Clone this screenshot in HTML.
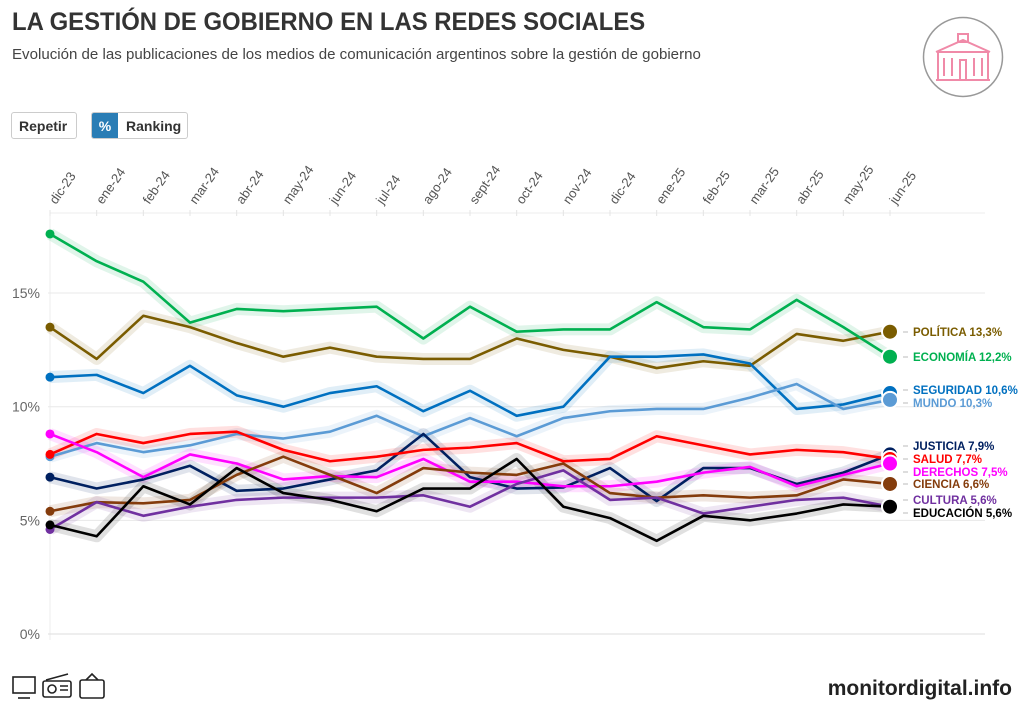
<!DOCTYPE html>
<html><head><meta charset="utf-8">
<style>
body{margin:0;width:1024px;height:720px;background:#fff;font-family:"Liberation Sans",sans-serif;overflow:hidden;position:relative}
.t{position:absolute;left:12px;top:8px;font-size:25px;font-weight:bold;color:#333;transform:scaleX(0.955);transform-origin:0 0;white-space:nowrap}
.s{position:absolute;left:12px;top:46px;font-size:15px;color:#444;white-space:nowrap;transform:scaleX(1.005);transform-origin:0 0}
.btn{position:absolute;top:112px;height:27px;border:1px solid #ccc;border-radius:3px;font-size:14px;font-weight:bold;color:#333;line-height:27px;box-sizing:border-box}
.foot{position:absolute;right:12px;top:677px;font-size:21px;font-weight:bold;color:#222}
</style></head><body>
<div class="t">LA GESTIÓN DE GOBIERNO EN LAS REDES SOCIALES</div>
<div class="s">Evolución de las publicaciones de los medios de comunicación argentinos sobre la gestión de gobierno</div>
<div class="btn" style="left:11px;width:66px;padding-left:7px">Repetir</div>
<div class="btn" style="left:91px;width:97px;display:flex;overflow:hidden"><span style="background:#2a7db5;color:#fff;width:26px;text-align:center">%</span><span style="padding-left:8px">Ranking</span></div>
<svg style="position:absolute;left:922px;top:16px" width="82" height="82">
<circle cx="41" cy="41" r="39.5" fill="#fff" stroke="#999" stroke-width="1.5"/>
<g fill="none" stroke="#f08aa8" stroke-width="2"><rect x="16" y="36" width="50" height="28"/><path d="M14 36 L41 24 L68 36"/><rect x="36" y="18" width="10" height="8"/><path d="M22 42v18M30 42v18M52 42v18M60 42v18M38 44h6v20h-6z"/><path d="M14 64h54"/></g></svg>
<svg id="c" width="1024" height="720" style="position:absolute;left:0;top:0"></svg>
<svg style="position:absolute;left:10px;top:672px" width="100" height="30"><g fill="none" stroke="#222" stroke-width="1.6"><rect x="3" y="5" width="22" height="16"/><path d="M8 26h12"/><rect x="33" y="9" width="28" height="16" rx="2"/><circle cx="42" cy="17" r="4"/><path d="M50 14h8M50 18h8M36 8l22-6"/><rect x="70" y="8" width="24" height="18" rx="2"/><path d="M76 8l6-6 6 6"/></g></svg>
<div class="foot">monitordigital.info</div>
<script>
const months=["dic-23","ene-24","feb-24","mar-24","abr-24","may-24","jun-24","jul-24","ago-24","sept-24","oct-24","nov-24","dic-24","ene-25","feb-25","mar-25","abr-25","may-25","jun-25"];
const yTicks=[0,5,10,15];
const names=["POLÍTICA","ECONOMÍA","SEGURIDAD","MUNDO","JUSTICIA","SALUD","DERECHOS","CIENCIA","CULTURA","EDUCACIÓN"];
const colors=["#7a5c00","#00b050","#0070c0","#5b9bd5","#002060","#ff0000","#ff00ff","#843c0c","#7030a0","#000000"];
const politica=[13.5,12.1,14.0,13.5,12.8,12.2,12.6,12.2,12.1,12.1,13.0,12.5,12.2,11.7,12.0,11.8,13.2,12.9,13.3];
const economia=[17.6,16.4,15.5,13.7,14.3,14.2,14.3,14.4,13.0,14.4,13.3,13.4,13.4,14.6,13.5,13.4,14.7,13.5,12.2];
const seguridad=[11.3,11.4,10.6,11.8,10.5,10.0,10.6,10.9,9.8,10.7,9.6,10.0,12.2,12.2,12.3,11.9,9.9,10.1,10.6];
const mundo=[7.8,8.4,8.0,8.3,8.8,8.6,8.9,9.6,8.7,9.5,8.7,9.5,9.8,9.9,9.9,10.4,11.0,9.9,10.3];
const justicia=[6.9,6.4,6.8,7.4,6.3,6.4,6.8,7.2,8.8,6.9,6.4,6.45,7.3,5.85,7.3,7.3,6.6,7.1,7.9];
const salud=[7.9,8.8,8.4,8.8,8.9,8.1,7.6,7.8,8.1,8.2,8.4,7.6,7.7,8.7,8.3,7.9,8.1,8.0,7.7];
const derechos=[8.8,8.0,6.9,7.9,7.5,6.8,6.95,6.9,7.7,6.7,6.7,6.5,6.5,6.7,7.1,7.35,6.5,7.0,7.5];
const ciencia=[5.4,5.8,5.75,5.9,7.0,7.8,7.0,6.2,7.3,7.1,7.0,7.5,6.2,6.0,6.1,6.0,6.1,6.8,6.6];
const cultura=[4.6,5.8,5.2,5.6,5.9,6.0,6.0,6.0,6.1,5.6,6.6,7.2,5.9,6.0,5.3,5.6,5.9,6.0,5.6];
const educacion=[4.8,4.3,6.5,5.7,7.3,6.2,5.9,5.4,6.4,6.4,7.7,5.6,5.1,4.1,5.2,5.0,5.3,5.7,5.6];
const series=[politica,economia,seguridad,mundo,justicia,salud,derechos,ciencia,cultura,educacion];
const labelY=[332,357,390,403,446,459,472,484,500,513];
const NS="http://www.w3.org/2000/svg",svg=document.getElementById('c');
const X=i=>50+i*(840/(months.length-1));
const Y=v=>634-v*22.73;
function mk(t,a,p){const e=document.createElementNS(NS,t);for(const k in a)e.setAttribute(k,a[k]);(p||svg).appendChild(e);return e;}
const ax=mk('line',{x1:50,x2:50,y1:213,y2:640,stroke:'#eee'});


const tl=mk('line',{x1:50,x2:985,y1:213,y2:213,stroke:'#eee'});


months.forEach((m,i)=>{
 const g=mk('line',{x1:X(i),x2:X(i),y1:210,y2:216,stroke:'#e4e4e4'});
 
 
 const t=mk('text',{x:X(i)+6,y:205,transform:`rotate(-55 ${X(i)+6} 205)`,'font-size':13,fill:'#555'});
 t.textContent=m;
 
 
});
yTicks.forEach(v=>{
 const g=mk('line',{x1:48,x2:985,y1:Y(v),y2:Y(v),stroke:v==0?'#ddd':'#e8e8e8'});
 
 
 const t=mk('text',{x:40,y:Y(v)+5,'text-anchor':'end','font-size':14,fill:'#666'});
 t.textContent=v+'%';
 
 
});
const pts=s=>s.map((v,i)=>X(i)+','+Y(v)).join(' ');
series.forEach((s,k)=>{
 const h=mk('polyline',{points:pts(s),fill:'none',stroke:colors[k],'stroke-opacity':0.12,'stroke-width':12,'stroke-linejoin':'round'});
 
 
});
series.forEach((s,k)=>{
 const l=mk('polyline',{points:pts(s),fill:'none',stroke:colors[k],'stroke-width':2.6,'stroke-linejoin':'round'});
 
 
 const d=mk('circle',{cx:X(0),cy:Y(s[0]),r:4.5,fill:colors[k]});
 
 
});
series.forEach((s,k)=>{
 const n=s.length-1;
 const d=mk('circle',{cx:X(n),cy:Y(s[n]),r:8,fill:colors[k],stroke:'#fff','stroke-width':2});
 
 
 const t=mk('text',{x:913,y:labelY[k]+4,'font-size':11.5,'font-weight':'bold',fill:colors[k]});
 t.textContent=names[k]+' '+s[n].toFixed(1).replace('.',',')+'%';
 
 
 const c=mk('line',{x1:903,x2:908,y1:labelY[k],y2:labelY[k],stroke:'#bbb'});
 
 
});
</script>
</body></html>
